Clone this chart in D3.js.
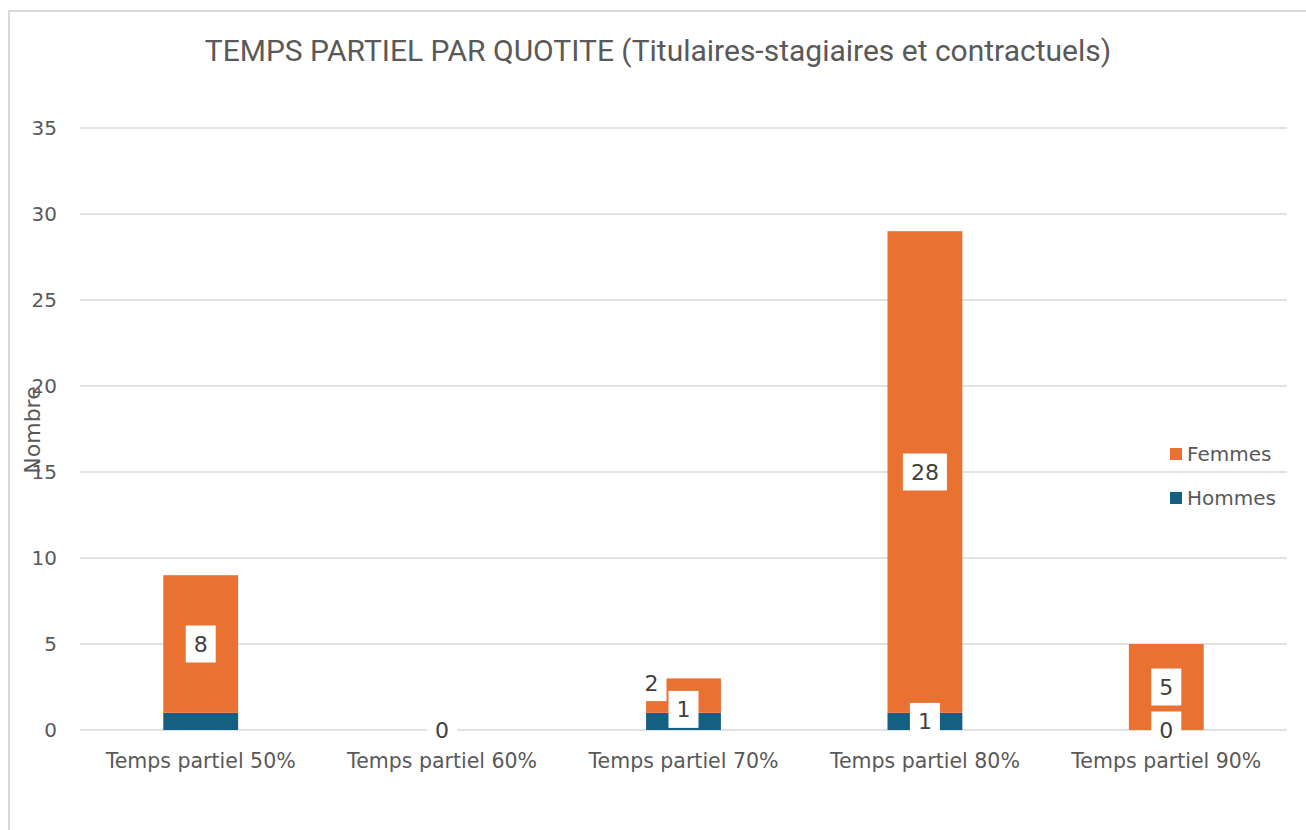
<!DOCTYPE html>
<html>
<head>
<meta charset="utf-8">
<script src="https://cdn.jsdelivr.net/npm/d3@7"></script>
<style>
  body { margin: 0; background: #fff; }
  text { font-family: "DejaVu Sans", sans-serif; }
</style>
</head>
<body>
<div id="graph"></div>
<script>
var w = 1306, h = 830

var categories = ['Temps partiel 50%', 'Temps partiel 60%', 'Temps partiel 70%', 'Temps partiel 80%', 'Temps partiel 90%']
var hommes = [1, 0, 1, 1, 0]
var femmes = [8, 0, 2, 28, 5]
var yTicks = [0, 5, 10, 15, 20, 25, 30, 35]
var seriesNames = ['Hommes', 'Femmes']

var colour = d3.scaleOrdinal()
  .domain(seriesNames)
  .range(['#156082', '#e97132'])

var data = categories.map(function(c, i) {
  return {cat: c, Hommes: hommes[i], Femmes: femmes[i]}
})

var svg = d3.select('#graph')
  .html('')
  .append('svg')
  .attr('width', w)
  .attr('height', h)

// chart frame (only top/left visible in the picture)
svg.append('path')
  .attr('d', 'M9,830 L9,11 L1306,11')
  .attr('fill', 'none')
  .attr('stroke', '#d9d9d9')
  .attr('stroke-width', 2)

var x = d3.scaleBand()
  .domain(categories)
  .range([80, 1287])
  .paddingInner(0.69)
  .paddingOuter(0.345)

var y = d3.scaleLinear()
  .domain([0, 35])
  .range([730, 128])

// grid
svg.append('g').selectAll('line')
  .data(yTicks)
  .enter().append('line')
  .attr('x1', 80).attr('x2', 1287)
  .attr('y1', d => y(d)).attr('y2', d => y(d))
  .attr('stroke', '#d9d9d9')
  .attr('stroke-width', 1.5)

svg.append('g').selectAll('text')
  .data(yTicks)
  .enter().append('text')
  .attr('x', 57)
  .attr('y', d => y(d))
  .attr('dy', '0.36em')
  .attr('text-anchor', 'end')
  .style('font-size', '20px')
  .style('fill', '#595959')
  .text(d => d)

svg.append('g').selectAll('text')
  .data(categories)
  .enter().append('text')
  .attr('x', d => x(d) + x.bandwidth() / 2)
  .attr('y', 768)
  .attr('text-anchor', 'middle')
  .style('font-size', '20.5px')
  .style('fill', '#595959')
  .text(d => d)

var stacked = d3.stack().keys(seriesNames)(data)

var layers = svg.append('g').selectAll('g')
  .data(stacked)
  .enter().append('g')
  .attr('fill', d => colour(d.key))

layers.selectAll('rect')
  .data(d => d)
  .enter().append('rect')
  .attr('x', d => x(d.data.cat))
  .attr('width', x.bandwidth())
  .attr('y', d => y(d[1]))
  .attr('height', d => y(d[0]) - y(d[1]))

// data labels, Excel moved or dropped a few of them
var labelTweak = {
  'Hommes|Temps partiel 50%': {hide: true},
  'Femmes|Temps partiel 60%': {hide: true},
  'Femmes|Temps partiel 70%': {dx: -32, dy: -13},
  'Hommes|Temps partiel 70%': {dy: -12}
}

var labels = []
stacked.forEach(function(s) {
  s.forEach(function(d) {
    var t = labelTweak[s.key + '|' + d.data.cat] || {}
    if (t.hide) return
    labels.push({
      v: d.data[s.key],
      x: x(d.data.cat) + x.bandwidth() / 2 + (t.dx || 0),
      y: y((d[0] + d[1]) / 2) + (t.dy || 0)
    })
  })
})

var lab = svg.append('g').selectAll('g')
  .data(labels)
  .enter().append('g')
  .attr('transform', d => 'translate(' + d.x + ',' + d.y + ')')

lab.append('rect').attr('fill', '#fff')

lab.append('text')
  .attr('text-anchor', 'middle')
  .attr('dy', '0.36em')
  .style('font-size', '22px')
  .style('fill', '#404040')
  .text(d => d.v)

lab.each(function() {
  var g = d3.select(this)
  var bw = g.select('text').node().getComputedTextLength() + 16
  g.select('rect')
    .attr('x', -bw / 2).attr('y', -18.5)
    .attr('width', bw).attr('height', 37)
})

// legend
var legend = svg.append('g').selectAll('g')
  .data(['Femmes', 'Hommes'])
  .enter().append('g')
  .attr('transform', (d, i) => 'translate(1170,' + (448 + i * 44) + ')')

legend.append('rect')
  .attr('width', 12).attr('height', 12)
  .attr('fill', d => colour(d))

legend.append('text')
  .attr('x', 17).attr('y', 6)
  .attr('dy', '0.36em')
  .style('font-size', '20px')
  .style('fill', '#595959')
  .text(d => d)

// titles
svg.append('text')
  .attr('x', 658).attr('y', 50)
  .attr('dy', '0.36em')
  .attr('text-anchor', 'middle')
  .style('font-family', "Roboto, sans-serif")
  .style('font-size', '30px')
  .style('fill', '#595959')
  .text('TEMPS PARTIEL PAR QUOTITE (Titulaires-stagiaires et contractuels)')

svg.append('text')
  .attr('transform', 'translate(32,430) rotate(-90)')
  .attr('dy', '0.36em')
  .attr('text-anchor', 'middle')
  .style('font-size', '22px')
  .style('fill', '#595959')
  .text('Nombre')
</script>
</body>
</html>
